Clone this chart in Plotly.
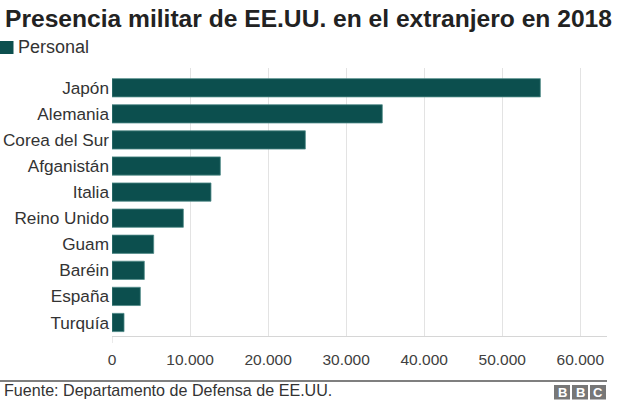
import plotly.graph_objects as go

categories = ["Japón", "Alemania", "Corea del Sur", "Afganistán", "Italia",
              "Reino Unido", "Guam", "Baréin", "España", "Turquía"]
personal = [54880, 34630, 24770, 13880, 12680, 9140, 5340, 4140, 3630, 1540]
x_ticks = [0, 10000, 20000, 30000, 40000, 50000, 60000]

title = "Presencia militar de EE.UU. en el extranjero en 2018"
series_name = "Personal"
source = "Fuente: Departamento de Defensa de EE.UU."

BAR = "#0c4f4e"
FONT = "Liberation Sans"

# bottom-to-top order for plotting
cats_plot = categories[::-1]
vals_plot = personal[::-1]

fig = go.Figure()
fig.add_trace(go.Bar(
    y=cats_plot, x=vals_plot, orientation="h", name=series_name,
    marker=dict(color=BAR, line=dict(color="#4f8a88", width=0.8)),
    width=0.70, showlegend=False,
))

W, H = 640, 405
L, R, T, B = 112, 33, 68, 69

fig.update_layout(
    width=W, height=H,
    margin=dict(l=L, r=R, t=T, b=B, autoexpand=False),
    paper_bgcolor="white", plot_bgcolor="white",
    separators=",.",
    font=dict(family=FONT, color="#333333"),
    xaxis=dict(range=[0, 63420], tickvals=x_ticks, tickformat=",d",
               automargin=False,
               showgrid=True, gridcolor="#e3e3e3", gridwidth=1,
               zeroline=False, showline=True, linecolor="#d6d6d6", linewidth=1,
               ticks="", ticklabelstandoff=9,
               tickfont=dict(size=15.5, color="#404040", family=FONT)),
    yaxis=dict(range=[-0.518, 9.758], showgrid=False, zeroline=False,
               automargin=False,
               showline=False, ticks="", ticklabelstandoff=2,
               tickfont=dict(size=17.2, color="#333333", family=FONT)),
    bargap=0.3,
)

# tick mark under zero
fig.add_shape(type="line", xref="x", yref="paper", x0=0, x1=0, y0=0, y1=-7/(H-T-B),
              line=dict(color="#d6d6d6", width=1))

pw = W - L - R
ph = H - T - B
def px(x):
    return (x - L) / pw
def py(y):
    return (H - B - y) / ph

# title
fig.add_annotation(text="<b>" + title + "</b>", xref="paper", yref="paper",
                   x=px(3), y=py(3), xanchor="left", yanchor="top", showarrow=False,
                   font=dict(size=24.6, color="#222222", family=FONT))
# legend
fig.add_shape(type="rect", xref="paper", yref="paper",
              x0=px(0), x1=px(13.5), y0=py(54), y1=py(41),
              fillcolor=BAR, line=dict(width=0))
fig.add_annotation(text=series_name, xref="paper", yref="paper",
                   x=px(16), y=py(47.5), xanchor="left", yanchor="middle", showarrow=False,
                   font=dict(size=18, color="#333333", family=FONT))
# footer line
fig.add_shape(type="line", xref="paper", yref="paper", x0=px(0), x1=px(607),
              y0=py(381), y1=py(381), line=dict(color="#555555", width=1.5))
fig.add_annotation(text=source, xref="paper", yref="paper",
                   x=px(2), y=py(390), xanchor="left", yanchor="middle", showarrow=False,
                   font=dict(size=16.1, color="#333333", family=FONT))
# BBC logo
for i, letter in enumerate("BBC"):
    x0 = 554 + i * 18
    fig.add_shape(type="rect", xref="paper", yref="paper",
                  x0=px(x0), x1=px(x0 + 16), y0=py(399.5), y1=py(385),
                  fillcolor="#777777", line=dict(width=0))
    fig.add_annotation(text="<b>" + letter + "</b>", xref="paper", yref="paper",
                       x=px(x0 + 8), y=py(392.5), xanchor="center", yanchor="middle",
                       showarrow=False, font=dict(size=13, color="white", family=FONT))

fig.write_html("out.html", config={"displayModeBar": False},
               post_script="document.body.style.margin='0';")
